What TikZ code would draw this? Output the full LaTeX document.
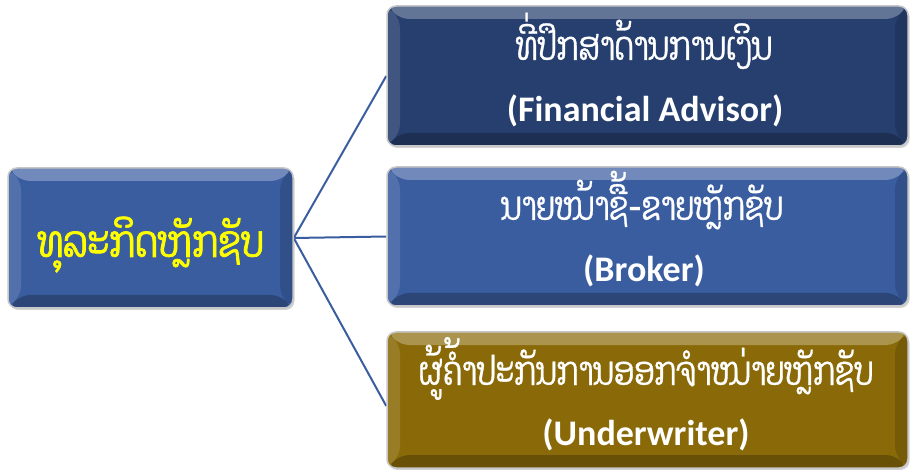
\documentclass[tikz,border=0pt]{standalone}
\usepackage{fontspec}
\setmainfont{Carlito}
\newfontfamily\lao[Script=Lao,FakeStretch=0.74,FakeBold=0.8]{Dhyana}
\newfontfamily\laob[Script=Lao,FakeStretch=0.8,FakeBold=1.6]{Dhyana}
\usetikzlibrary{shadows,backgrounds}
\definecolor{navyC}{HTML}{263F6E}
\definecolor{blueC}{HTML}{3A5DA0}
\definecolor{oliveC}{HTML}{8A6A08}
\definecolor{lineC}{HTML}{3A5DA0}
\definecolor{laoY}{HTML}{FFFF00}
\tikzset{
  bevelbox/.style={rectangle, rounded corners=9pt, inner sep=0pt,
    fill=#1, draw=black!22, line width=1.5pt,
    drop shadow={opacity=0.35, shadow xshift=1.5pt, shadow yshift=-2pt},
    path picture={
      \fill[#1!72!white] (path picture bounding box.north west) -- (path picture bounding box.north east)
        -- ([xshift=-13pt,yshift=-13pt]path picture bounding box.north east)
        -- ([xshift=13pt,yshift=-13pt]path picture bounding box.north west) -- cycle;
      \fill[#1!88!white] (path picture bounding box.north west) -- ([xshift=13pt,yshift=-13pt]path picture bounding box.north west)
        -- ([xshift=13pt,yshift=13pt]path picture bounding box.south west) -- (path picture bounding box.south west) -- cycle;
      \fill[#1!85!black] (path picture bounding box.north east) -- ([xshift=-13pt,yshift=-13pt]path picture bounding box.north east)
        -- ([xshift=-13pt,yshift=13pt]path picture bounding box.south east) -- (path picture bounding box.south east) -- cycle;
      \fill[#1!75!black] (path picture bounding box.south west) -- ([xshift=13pt,yshift=13pt]path picture bounding box.south west)
        -- ([xshift=-13pt,yshift=13pt]path picture bounding box.south east) -- (path picture bounding box.south east) -- cycle;
    }},
  laotxt/.style={anchor=base, text=white, font=\lao\fontsize{40}{42}\selectfont, inner sep=0pt},
  entxt/.style={anchor=base, text=white, font=\fontsize{36}{38}\selectfont\bfseries, inner sep=0pt},
  link/.style={draw=lineC, line width=2pt}
}
\begin{document}
\begin{tikzpicture}[x=1pt,y=1pt]
\useasboundingbox (0,0) rectangle (913,-470);
\node[bevelbox=blueC, minimum width=285pt, minimum height=140pt] (left) at (150.5,-238) {};
\node[bevelbox=navyC, minimum width=521pt, minimum height=140pt] (top) at (647.5,-76) {};
\node[bevelbox=blueC, minimum width=521pt, minimum height=139pt] (mid) at (647.5,-236.5) {};
\node[bevelbox=oliveC, minimum width=521pt, minimum height=136pt] (bot) at (647.5,-400) {};
\begin{scope}[on background layer]
\draw[link] (left.east) -- (top.west);
\draw[link] (left.east) -- (mid.west);
\draw[link] (left.east) -- ([yshift=-6pt]bot.west);
\end{scope}
\node[anchor=base, text=laoY, inner sep=0pt, font=\laob\fontsize{44}{46}\selectfont] (lefttxt) at (150.5,-257) {ທຸລະກິດຫຼັກຊັບ};
\node[laotxt] (toplao) at (644,-60) {ທີ່ປຶກສາດ້ານການເງິນ};
\node[entxt] (topen) at (645,-122) {(Financial Advisor)};
\node[laotxt] (midlao) at (642,-220) {ນາຍໜ້າຊື້-ຂາຍຫຼັກຊັບ};
\node[entxt] (miden) at (644,-282) {(Broker)};
\node[laotxt] (botlao) at (646,-385) {ຜູ້ຄໍ້າປະກັນການອອກຈຳໜ່າຍຫຼັກຊັບ};
\node[entxt] (boten) at (646,-445) {(Underwriter)};
\end{tikzpicture}
\end{document}
